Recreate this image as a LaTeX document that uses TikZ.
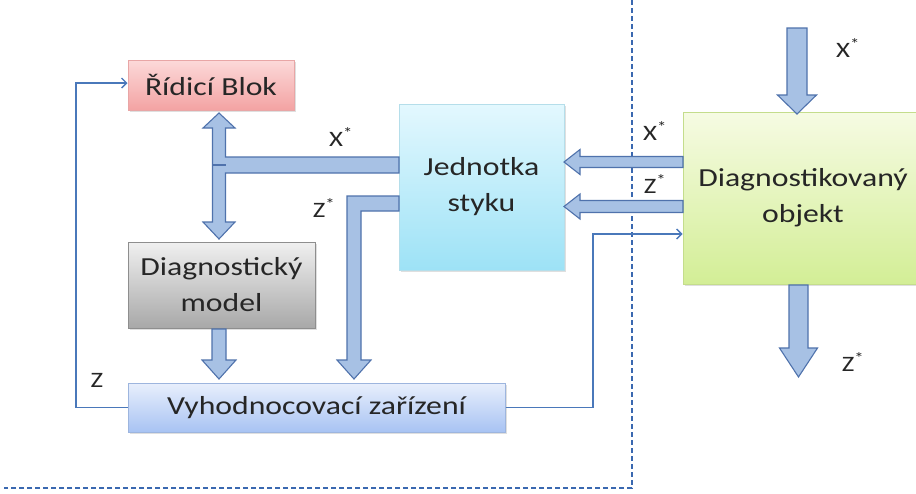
\documentclass[tikz,border=0pt]{standalone}
\usepackage{fontspec}
\setmainfont[FakeStretch=1.22]{Carlito}
\usetikzlibrary{shadows,arrows.meta}

\definecolor{txt}{HTML}{262626}
\definecolor{redTop}{HTML}{FCD9D9}
\definecolor{redBot}{HTML}{F3A3A3}
\definecolor{redLine}{HTML}{E8A6A6}
\definecolor{grayTop}{HTML}{F0F0F0}
\definecolor{grayBot}{HTML}{A8A8A8}
\definecolor{grayLine}{HTML}{8E8E8E}
\definecolor{cyanTop}{HTML}{E3F8FE}
\definecolor{cyanBot}{HTML}{9DE2F6}
\definecolor{cyanLine}{HTML}{B5DEEA}
\definecolor{greenTop}{HTML}{F6FBE3}
\definecolor{greenBot}{HTML}{D3EE96}
\definecolor{greenLine}{HTML}{C4DD8C}
\definecolor{blueTop}{HTML}{E8EFFC}
\definecolor{blueBot}{HTML}{A8C3F3}
\definecolor{blueLine}{HTML}{9DB5DE}
\definecolor{fatFill}{HTML}{A7C1E4}
\definecolor{fatLine}{HTML}{4F72AC}
\definecolor{wire}{HTML}{4A78BA}
\definecolor{sep}{HTML}{3A68B0}

\tikzset{
  box/.style={rectangle, line width=1pt, text=txt, align=center,
    font=\fontsize{26}{36}\selectfont, inner sep=0pt,
    drop shadow={shadow xshift=1.5pt, shadow yshift=-1.5pt, opacity=0.25, fill=black!50}},
  fatarrow/.style={fill=fatFill, draw=fatLine, line width=1.1pt, line join=miter},
  wireline/.style={draw=wire, line width=1.4pt, -{Straight Barb[length=5pt,width=10pt,line width=1.4pt]}},
  sepline/.style={draw=sep, line width=1.3pt, dash pattern=on 5pt off 3pt},
  lbl/.style={text=txt, font=\fontsize{22}{24}\selectfont, inner sep=0pt}
}

\begin{document}
\begin{tikzpicture}[x=1pt,y=-1pt]
\clip (0,0) rectangle (916,493);
\useasboundingbox (0,0) rectangle (916,493);
\fill[white] (0,0) rectangle (916,493);

% boxes
\node[box, minimum width=166pt, minimum height=50pt, draw=redLine,
      top color=redTop, bottom color=redBot] (ridici) at (211,85) {Řídicí Blok};
\node[box, minimum width=187pt, minimum height=86pt, draw=grayLine,
      top color=grayTop, bottom color=grayBot] (model) at (221.5,285) {Diagnostický\\model};
\node[box, minimum width=165pt, minimum height=166pt, draw=cyanLine,
      top color=cyanTop, bottom color=cyanBot] (styk) at (481.5,187) {Jednotka\\styku};
\node[box, minimum width=240pt, minimum height=172pt, draw=greenLine,
      top color=greenTop, bottom color=greenBot, text depth=6pt] (objekt) at (803,198) {Diagnostikovaný\\objekt};
\node[box, minimum width=377pt, minimum height=49pt, draw=blueLine,
      top color=blueTop, bottom color=blueBot] (vyhod) at (316.5,407.5) {Vyhodnocovací zařízení};

% separation lines
\coordinate (sepTop) at (632,0);
\coordinate (sepCorner) at (632,488);
\coordinate (sepLeft) at (4,488);
\draw[sepline] (sepTop) -- (sepCorner) -- (sepLeft);

% double arrow between control block and model, with branch to the interface unit
\draw[fatarrow] (219,113) -- (235,128) -- (225.5,128) -- (225.5,157) -- (399,157)
  -- (399,173) -- (225.5,173) -- (225.5,222) -- (235,222) -- (219,239) -- (203,222)
  -- (212.5,222) -- (212.5,128) -- (203,128) -- cycle;
\draw[draw=fatLine, line width=1.1pt] (212.5,165) -- (225.5,165);

% Z* bent arrow from the interface unit down to the evaluation unit
\draw[fatarrow] (399,196) -- (347,196) -- (347,360) -- (337,360) -- (354,379)
  -- (371,360) -- (361,360) -- (361,211) -- (399,211) -- cycle;

% model -> evaluation unit
\draw[fatarrow] (212,329) -- (226,329) -- (226,360) -- (236,360) -- (219,379)
  -- (202,360) -- (212,360) -- cycle;

% object -> interface unit
\draw[fatarrow] (683,156.5) -- (580,156.5) -- (580,149.5) -- (564,162) -- (580,174.5)
  -- (580,167.5) -- (683,167.5) -- cycle;
\draw[fatarrow] (683,200.5) -- (580,200.5) -- (580,194) -- (564,206.5) -- (580,219)
  -- (580,212.5) -- (683,212.5) -- cycle;

% object input and output
\draw[fatarrow] (787,28) -- (807,28) -- (807,95) -- (816.5,95) -- (797,114)
  -- (777.5,95) -- (787,95) -- cycle;
\draw[fatarrow] (789,285) -- (808,285) -- (808,348) -- (817.5,348) -- (798.5,377)
  -- (779.5,348) -- (789,348) -- cycle;

% thin feedback connectors
\draw[wireline] (vyhod.west) -- (76,407.5) -- (76,83) -- ([yshift=2pt]ridici.west);
\draw[wireline] (vyhod.east) -- (593,407.5) -- (593,234) -- ([yshift=-36pt]objekt.west);

% labels
\node[lbl] (lx1) at (341,137) {X\textsuperscript{*}};
\node[lbl] (lz1) at (324,208) {Z\textsuperscript{*}};
\node[lbl] (lx2) at (655,131) {X\textsuperscript{*}};
\node[lbl] (lz2) at (655,184) {Z\textsuperscript{*}};
\node[lbl] (lx3) at (848,48) {X\textsuperscript{*}};
\node[lbl] (lz3) at (853,362) {Z\textsuperscript{*}};
\node[lbl] (lz) at (97,380) {Z};
\end{tikzpicture}
\end{document}
